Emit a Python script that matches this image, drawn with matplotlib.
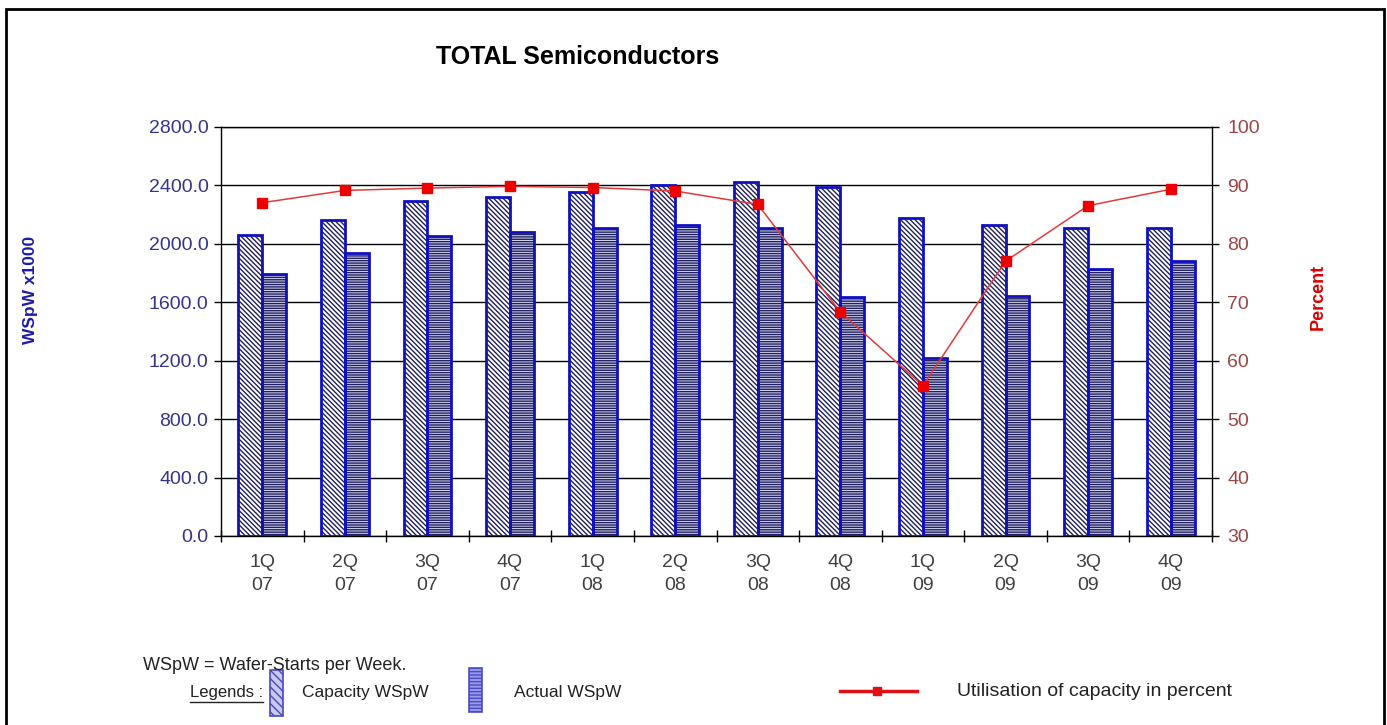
import matplotlib
matplotlib.use("Agg")
import matplotlib.pyplot as plt
from matplotlib.patches import Rectangle
from matplotlib.lines import Line2D
import numpy as np

# Quarterly data
quarters = ["1Q\n07", "2Q\n07", "3Q\n07", "4Q\n07",
            "1Q\n08", "2Q\n08", "3Q\n08", "4Q\n08",
            "1Q\n09", "2Q\n09", "3Q\n09", "4Q\n09"]
capacity_wspw = [2060, 2165, 2290, 2320, 2350, 2400, 2420, 2390, 2175, 2125, 2110, 2105]
actual_wspw = [1790, 1935, 2050, 2080, 2105, 2125, 2105, 1635, 1215, 1640, 1825, 1880]
utilisation_pct = [87.0, 89.1, 89.5, 89.8, 89.6, 89.0, 86.7, 68.3, 55.7, 77.0, 86.5, 89.3]
wspw_ticks = [0, 400, 800, 1200, 1600, 2000, 2400, 2800]
pct_ticks = [30, 40, 50, 60, 70, 80, 90, 100]

plt.rcParams['font.family'] = ['Liberation Sans', 'DejaVu Sans']
plt.rcParams['hatch.linewidth'] = 1.0

W, H = 1387, 725
fig = plt.figure(figsize=(W / 100, H / 100), dpi=100)
fig.patch.set_facecolor('white')

ax = fig.add_axes([221 / W, (H - 536) / H, (1212 - 221) / W, (536 - 126.7) / H])
x = np.arange(len(quarters))
bw = 0.29

edge_blue = '#1010c0'
hatch_navy = '#20205e'

# capacity bars: diagonal hatch on white
ax.bar(x - bw / 2, capacity_wspw, bw, facecolor='white', edgecolor=hatch_navy,
       hatch='\\' * 7, linewidth=0, zorder=2)
ax.bar(x - bw / 2, capacity_wspw, bw, fill=False, edgecolor=edge_blue,
       linewidth=2.0, zorder=3)
# actual bars: horizontal hatch on lavender
ax.bar(x + bw / 2, actual_wspw, bw, facecolor='#d4d4f2', edgecolor=hatch_navy,
       hatch='-' * 7, linewidth=0, zorder=2)
ax.bar(x + bw / 2, actual_wspw, bw, fill=False, edgecolor=edge_blue,
       linewidth=2.0, zorder=3)

ax.set_xlim(-0.5, len(quarters) - 0.5)
ax.set_ylim(0, 2800)
ax.set_yticks(wspw_ticks)
ax.set_yticklabels([f"{v:.1f}" for v in wspw_ticks])
ax.tick_params(axis='y', direction='out', length=5, width=1, color='black',
               labelsize=14, labelcolor='#34348c', pad=4)
ax.yaxis.grid(True, color='black', linewidth=1.0)
ax.set_axisbelow(True)

ax.set_xticks(np.arange(len(quarters) + 1) - 0.5)
ax.set_xticklabels([])
ax.tick_params(axis='x', which='major', direction='inout', length=9, width=1, color='black')
ax.set_xticks(x, minor=True)
ax.set_xticklabels(quarters, minor=True, linespacing=1.45)
ax.tick_params(axis='x', which='minor', length=0, pad=13, labelsize=14, labelcolor='#404040')

for side in ['left', 'bottom', 'top']:
    ax.spines[side].set_color('black')
    ax.spines[side].set_linewidth(1.0)
ax.spines['right'].set_visible(False)

# utilisation line on secondary axis
ax2 = ax.twinx()
ax2.plot(x, utilisation_pct, color='#e23a3a', linewidth=1.1, marker='s',
         markersize=7, markerfacecolor='#ee0000', markeredgecolor='#ee0000', zorder=5)
ax2.set_ylim(30, 100)
ax2.set_yticks(pct_ticks)
ax2.tick_params(axis='y', direction='out', length=5, width=1, color='black',
                labelsize=14, labelcolor='#a04444', pad=6)
for side in ['left', 'bottom', 'top']:
    ax2.spines[side].set_visible(False)
ax2.spines['right'].set_color('black')
ax2.spines['right'].set_linewidth(1.0)

# titles and axis captions
fig.text(578 / W, 1 - 57 / H, 'TOTAL Semiconductors', ha='center', va='center',
         fontsize=18, fontweight='bold', color='black')
fig.text(30 / W, 1 - 290 / H, 'WSpW x1000', ha='center', va='center', rotation=90,
         fontsize=12.5, fontweight='bold', color='#1c1ca8')
fig.text(1318 / W, 1 - 297 / H, 'Percent', ha='center', va='center', rotation=90,
         fontsize=13, fontweight='bold', color='#dd0000')

# footnote and legend
fig.text(143 / W, 1 - 666 / H, 'WSpW = Wafer-Starts per Week.', ha='left', va='center',
         fontsize=13, color='#222222')
leg_t = fig.text(190 / W, 1 - 692 / H, 'Legends :', ha='left', va='center',
                 fontsize=12, color='#222222')

fig.patches.append(Rectangle((270 / W, 1 - 716 / H), 13 / W, 46 / H,
                             transform=fig.transFigure, facecolor='#c8c8f0',
                             edgecolor='#4a4ab8', hatch='\\\\\\\\', linewidth=1.2))
fig.text(302 / W, 1 - 692 / H, 'Capacity WSpW', ha='left', va='center',
         fontsize=12.5, color='#222222')
fig.patches.append(Rectangle((469 / W, 1 - 712 / H), 13 / W, 44 / H,
                             transform=fig.transFigure, facecolor='#9a9ae6',
                             edgecolor='#4a4ac8', hatch='-----', linewidth=1.2))
fig.text(514 / W, 1 - 692 / H, 'Actual WSpW', ha='left', va='center',
         fontsize=12.5, color='#222222')
fig.add_artist(Line2D([840 / W, 917 / W], [1 - 691 / H, 1 - 691 / H],
                      transform=fig.transFigure, color='#dd1111', linewidth=2.5))
fig.add_artist(Line2D([877 / W], [1 - 691 / H], transform=fig.transFigure,
                      marker='s', markersize=6, color='#dd1111', linestyle='none'))
fig.text(957 / W, 1 - 691 / H, 'Utilisation of capacity in percent', ha='left',
         va='center', fontsize=14, color='#222222')

# outer frame
fig.add_artist(Rectangle((6 / W, -0.02), (1384 - 6) / W, 1.02 - 9 / H,
                         transform=fig.transFigure, fill=False, edgecolor='black',
                         linewidth=2.0))

# underline for the legend caption
fig.canvas.draw()
bb = leg_t.get_window_extent()
fig.add_artist(Line2D([bb.x0 / W, bb.x1 / W], [(bb.y0 - 2) / H, (bb.y0 - 2) / H],
                      transform=fig.transFigure, color='#222222', linewidth=1.0))

fig.savefig('out.png', dpi=100)
